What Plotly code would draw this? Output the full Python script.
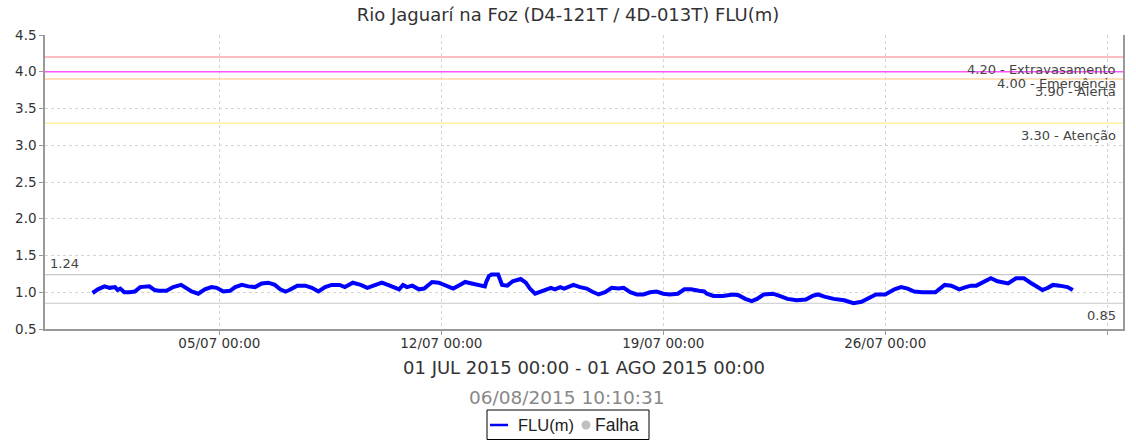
import plotly.graph_objects as go

# River level readings, FLU(m), July 2015
times = [
    "2015-07-01 00:00", "2015-07-01 04:00", "2015-07-01 09:00", "2015-07-01 13:00", "2015-07-01 17:00",
    "2015-07-01 19:00", "2015-07-01 21:00", "2015-07-02 00:00", "2015-07-02 04:00", "2015-07-02 08:00",
    "2015-07-02 12:00", "2015-07-02 16:00", "2015-07-02 19:00", "2015-07-02 23:00", "2015-07-03 02:00",
    "2015-07-03 08:00", "2015-07-03 13:00", "2015-07-03 19:00", "2015-07-03 23:00", "2015-07-04 03:00",
    "2015-07-04 08:00", "2015-07-04 13:00", "2015-07-04 18:00", "2015-07-04 22:00", "2015-07-05 03:00",
    "2015-07-05 08:00", "2015-07-05 12:00", "2015-07-05 17:00", "2015-07-05 22:00", "2015-07-06 03:00",
    "2015-07-06 08:00", "2015-07-06 13:00", "2015-07-06 18:00", "2015-07-06 22:00", "2015-07-07 02:00",
    "2015-07-07 05:00", "2015-07-07 11:00", "2015-07-07 17:00", "2015-07-07 22:00", "2015-07-08 03:00",
    "2015-07-08 08:00", "2015-07-08 13:00", "2015-07-08 19:00", "2015-07-08 23:00", "2015-07-09 05:00",
    "2015-07-09 11:00", "2015-07-09 16:00", "2015-07-09 20:00", "2015-07-10 03:00", "2015-07-10 09:00",
    "2015-07-10 16:00", "2015-07-10 19:00", "2015-07-10 22:00", "2015-07-11 02:00", "2015-07-11 07:00",
    "2015-07-11 11:00", "2015-07-11 17:00", "2015-07-11 22:00", "2015-07-12 04:00", "2015-07-12 09:00",
    "2015-07-12 14:00", "2015-07-12 18:00", "2015-07-12 23:00", "2015-07-13 05:00", "2015-07-13 09:00",
    "2015-07-13 10:00", "2015-07-13 12:00", "2015-07-13 14:00", "2015-07-13 19:00", "2015-07-13 22:00",
    "2015-07-14 02:00", "2015-07-14 06:00", "2015-07-14 12:00", "2015-07-14 16:00", "2015-07-14 19:00",
    "2015-07-14 23:00", "2015-07-15 04:00", "2015-07-15 11:00", "2015-07-15 14:00", "2015-07-15 18:00",
    "2015-07-15 21:00", "2015-07-16 00:00", "2015-07-16 04:00", "2015-07-16 09:00", "2015-07-16 14:00",
    "2015-07-16 18:00", "2015-07-16 23:00", "2015-07-17 04:00", "2015-07-17 09:00", "2015-07-17 14:00",
    "2015-07-17 18:00", "2015-07-17 23:00", "2015-07-18 04:00", "2015-07-18 09:00", "2015-07-18 14:00",
    "2015-07-18 19:00", "2015-07-19 00:00", "2015-07-19 05:00", "2015-07-19 11:00", "2015-07-19 16:00",
    "2015-07-19 21:00", "2015-07-20 03:00", "2015-07-20 07:00", "2015-07-20 09:00", "2015-07-20 14:00",
    "2015-07-20 21:00", "2015-07-21 03:00", "2015-07-21 05:00", "2015-07-21 09:00", "2015-07-21 14:00",
    "2015-07-21 19:00", "2015-07-21 23:00", "2015-07-22 04:00", "2015-07-22 11:00", "2015-07-22 16:00",
    "2015-07-22 22:00", "2015-07-23 05:00", "2015-07-23 12:00", "2015-07-23 17:00", "2015-07-23 21:00",
    "2015-07-24 02:00", "2015-07-24 09:00", "2015-07-24 17:00", "2015-07-25 00:00", "2015-07-25 06:00",
    "2015-07-25 11:00", "2015-07-25 17:00", "2015-07-26 00:00", "2015-07-26 07:00", "2015-07-26 12:00",
    "2015-07-26 17:00", "2015-07-26 22:00", "2015-07-27 04:00", "2015-07-27 14:00", "2015-07-27 21:00",
    "2015-07-28 02:00", "2015-07-28 08:00", "2015-07-28 13:00", "2015-07-28 17:00", "2015-07-28 21:00",
    "2015-07-29 02:00", "2015-07-29 08:00", "2015-07-29 13:00", "2015-07-29 21:00", "2015-07-30 03:00",
    "2015-07-30 09:00", "2015-07-30 14:00", "2015-07-30 19:00", "2015-07-30 23:00", "2015-07-31 03:00",
    "2015-07-31 07:00", "2015-07-31 12:00", "2015-07-31 18:00", "2015-07-31 22:00",
]
levels = [
    0.99, 1.04, 1.08, 1.06, 1.07,
    1.03, 1.05, 1.00, 1.00, 1.01,
    1.07, 1.08, 1.08, 1.03, 1.02,
    1.02, 1.07, 1.10, 1.06, 1.01,
    0.98, 1.04, 1.07, 1.06, 1.01,
    1.02, 1.07, 1.10, 1.08, 1.07,
    1.12, 1.13, 1.10, 1.04, 1.01,
    1.03, 1.09, 1.09, 1.06, 1.01,
    1.07, 1.10, 1.10, 1.07, 1.13,
    1.10, 1.06, 1.09, 1.13, 1.09,
    1.04, 1.10, 1.07, 1.09, 1.04,
    1.05, 1.14, 1.13, 1.09, 1.05,
    1.10, 1.14, 1.12, 1.09, 1.08,
    1.14, 1.22, 1.24, 1.24, 1.10,
    1.09, 1.15, 1.18, 1.13, 1.05,
    0.98, 1.01, 1.06, 1.04, 1.07,
    1.05, 1.07, 1.10, 1.07, 1.05,
    1.01, 0.97, 1.00, 1.06, 1.05,
    1.06, 1.00, 0.97, 0.97, 1.00,
    1.01, 0.98, 0.97, 0.98, 1.04,
    1.04, 1.02, 1.01, 0.98, 0.95,
    0.95, 0.96, 0.97, 0.96, 0.91,
    0.88, 0.91, 0.97, 0.98, 0.95,
    0.91, 0.89, 0.90, 0.95, 0.97,
    0.94, 0.91, 0.89, 0.85, 0.87,
    0.92, 0.97, 0.97, 1.04, 1.07,
    1.05, 1.01, 1.00, 1.00, 1.10,
    1.09, 1.04, 1.07, 1.09, 1.09,
    1.14, 1.19, 1.15, 1.12, 1.19,
    1.19, 1.13, 1.07, 1.03, 1.06,
    1.10, 1.09, 1.07, 1.03,
]

# Alert thresholds (m)
threshold_values = [4.20, 4.00, 3.90, 3.30]
threshold_names = ["Extravasamento", "Emergência", "Alerta", "Atenção"]
threshold_colors = ["#ffa8a8", "#ff55ff", "#ffd4a8", "#fff0a0"]

x_range = ["2015-06-29 12:00", "2015-08-02 12:00"]
x_ticks = ["2015-07-05", "2015-07-12", "2015-07-19", "2015-07-26", "2015-08-02"]
y_range = [0.5, 4.5]

title_text = "Rio Jaguarí na Foz (D4-121T / 4D-013T) FLU(m)"
period_text = "01 JUL 2015 00:00 - 01 AGO 2015 00:00"
stamp_text = "06/08/2015 10:10:31"
legend_names = ["FLU(m)", "Falha"]

FONT = "DejaVu Sans"
LINE_BLUE = "#0000ff"
FAIL_GREY = "#c0c0c0"

# Plot-area geometry in pixels (used to place the legend box in paper units)
W, H = 1136, 443
ML, MR, MT, MB = 45, 13, 35, 114
PW, PH = W - ML - MR, H - MT - MB


def px_x(px):
    return (px - ML) / PW


def px_y(py):
    return (H - MB - py) / PH


fig = go.Figure()

fig.add_trace(go.Scatter(
    x=times, y=levels, mode="lines", name=legend_names[0],
    line=dict(color=LINE_BLUE, width=4), showlegend=False,
))

shapes = []
annotations = []

# Threshold lines (drawn over the grid) with right-aligned labels below each line
for val, name, col in zip(threshold_values, threshold_names, threshold_colors):
    shapes.append(dict(type="line", xref="paper", x0=0, x1=1, yref="y", y0=val, y1=val,
                       line=dict(color=col, width=1.5), layer="above"))
    annotations.append(dict(xref="paper", x=1, xshift=-5, xanchor="right",
                            yref="y", y=val, yshift=-12, yanchor="middle",
                            text=f"{val:.2f} - {name}", showarrow=False,
                            font=dict(family=FONT, size=13, color="#444")))

# Max / min reference lines
vmax = max(levels)
vmin = min(levels)
for v in (vmax, vmin):
    shapes.append(dict(type="line", xref="paper", x0=0, x1=1, yref="y", y0=v, y1=v,
                       line=dict(color="#c8c8c8", width=1.2), layer="below"))
annotations.append(dict(xref="paper", x=0, xshift=3, xanchor="left",
                        yref="y", y=vmax, yshift=11, yanchor="middle",
                        text=f"{vmax:.2f}", showarrow=False,
                        font=dict(family=FONT, size=13, color="#444")))
annotations.append(dict(xref="paper", x=1, xshift=-5, xanchor="right",
                        yref="y", y=vmin, yshift=-12, yanchor="middle",
                        text=f"{vmin:.2f}", showarrow=False,
                        font=dict(family=FONT, size=13, color="#444")))

# Period and timestamp lines under the axis
annotations.append(dict(xref="paper", x=0.5, yref="paper", y=px_y(367), yanchor="middle",
                        text=period_text, showarrow=False,
                        font=dict(family=FONT, size=18, color="#333")))
annotations.append(dict(xref="paper", x=px_x(566.5), yref="paper", y=px_y(397), yanchor="middle",
                        text=stamp_text, showarrow=False,
                        font=dict(family=FONT, size=18.5, color="#888")))

# Legend box: blue line sample + grey dot for failures
leg_cy = 425
shapes.append(dict(type="rect", xref="paper", yref="paper",
                   x0=px_x(487), x1=px_x(649), y0=px_y(410), y1=px_y(439.5),
                   line=dict(color="#000", width=1), fillcolor="white"))
shapes.append(dict(type="line", xref="paper", yref="paper",
                   x0=px_x(490), x1=px_x(508), y0=px_y(leg_cy), y1=px_y(leg_cy),
                   line=dict(color=LINE_BLUE, width=2.5)))
shapes.append(dict(type="circle", xref="paper", yref="paper",
                   x0=px_x(581.5), x1=px_x(590.5), y0=px_y(leg_cy - 4.5), y1=px_y(leg_cy + 4.5),
                   line=dict(width=0), fillcolor=FAIL_GREY))
annotations.append(dict(xref="paper", x=px_x(516), xanchor="left",
                        yref="paper", y=px_y(leg_cy), yanchor="middle",
                        text=legend_names[0], showarrow=False,
                        font=dict(family="Liberation Sans", size=16.5, color="#222")))
annotations.append(dict(xref="paper", x=px_x(592.5), xanchor="left",
                        yref="paper", y=px_y(leg_cy), yanchor="middle",
                        text=legend_names[1], showarrow=False,
                        font=dict(family="Liberation Sans", size=17.5, color="#222")))

fig.update_layout(
    width=W, height=H,
    margin=dict(l=ML, r=MR, t=MT, b=MB),
    paper_bgcolor="white", plot_bgcolor="white",
    title=dict(text=title_text, x=0.5, xref="container", y=0.966, yanchor="middle",
               font=dict(family=FONT, size=18, color="#333")),
    showlegend=False,
    shapes=shapes,
    annotations=annotations,
)

fig.update_xaxes(
    type="date", range=x_range, tickvals=x_ticks, tickformat="%d/%m %H:%M",
    showgrid=True, gridcolor="#d4d4d4", griddash="3px,3px", gridwidth=1,
    showline=True, linecolor="#999", linewidth=1.5,
    ticks="outside", ticklen=4, tickcolor="#999", ticklabelstandoff=-3,
    tickfont=dict(family=FONT, size=13.5, color="#333"),
    zeroline=False,
)
fig.update_yaxes(
    range=y_range, dtick=0.5, tickformat=".1f",
    showgrid=True, gridcolor="#d4d4d4", griddash="3px,3px", gridwidth=1,
    showline=True, linecolor="#999", linewidth=1.5, mirror=True,
    ticks="outside", ticklen=4, tickcolor="#999",
    tickfont=dict(family=FONT, size=13.5, color="#333"),
    zeroline=False,
)

fig.write_html("out.html")
